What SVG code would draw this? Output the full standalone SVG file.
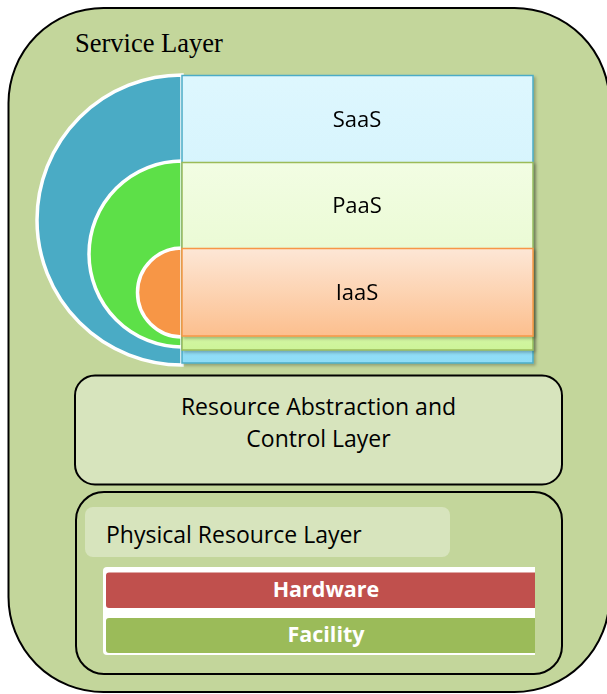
<svg xmlns="http://www.w3.org/2000/svg" width="607" height="694" viewBox="0 0 607 694">
<defs>
<linearGradient id="gSaaS" x1="0" y1="0" x2="0" y2="1">
<stop offset="0" stop-color="#def7fe"/><stop offset="0.75" stop-color="#cdf1fc"/><stop offset="0.8" stop-color="#9be3f9"/><stop offset="1" stop-color="#8edcf6"/>
</linearGradient>
<linearGradient id="gPaaS" x1="0" y1="0" x2="0" y2="1">
<stop offset="0" stop-color="#f2fde3"/><stop offset="0.9" stop-color="#e4f8c8"/><stop offset="0.92" stop-color="#d3f6a4"/><stop offset="1" stop-color="#cdf498"/>
</linearGradient>
<linearGradient id="gIaaS" x1="0" y1="0" x2="0" y2="1">
<stop offset="0" stop-color="#fde7d6"/><stop offset="1" stop-color="#fcbf8e"/>
</linearGradient>
<filter id="sh" x="-5%" y="-5%" width="115%" height="120%">
<feDropShadow dx="2" dy="2" stdDeviation="1.5" flood-color="#000" flood-opacity="0.25"/>
</filter>
<clipPath id="barclip"><rect x="0" y="0" width="535" height="694"/></clipPath>
</defs>
<style>
.cal{font-family:"Open Sans","Noto Sans","Liberation Sans",sans-serif;fill:#000}
.lbl{font-size:22px;text-anchor:middle}
.big{font-size:23px;text-anchor:middle}
.bold{font-weight:bold;fill:#fff;text-anchor:middle;font-size:21.5px}
.disc{stroke:#fff;stroke-width:3.5}
</style>
<g id="service-layer">
<rect x="8.5" y="8" width="601" height="684" rx="95" ry="95" fill="#c3d69b" stroke="#000" stroke-width="2"/>
<text x="75" y="51.5" font-family="Liberation Serif,Times New Roman,serif" font-size="26.5" fill="#000">Service Layer</text>
</g>
<g id="discs">
<path class="disc" d="M182 75 A145 145 0 0 0 182 365 Z" fill="#4aabc5"/>
<path class="disc" d="M182 161 A93 93 0 0 0 182 347 Z" fill="#5de048"/>
<path class="disc" d="M182 248 A44.5 44.5 0 0 0 182 337 Z" fill="#f79646"/>
</g>
<g id="saas" filter="url(#sh)">
<rect x="182" y="75.5" width="351" height="287.5" fill="url(#gSaaS)" stroke="#4bacc6" stroke-width="1.5"/>
<text class="cal lbl" x="357" y="127">SaaS</text>
</g>
<g id="paas" filter="url(#sh)">
<rect x="182" y="162.5" width="351" height="187.5" fill="url(#gPaaS)" stroke="#9bbb59" stroke-width="1.5"/>
<text class="cal lbl" x="357" y="213">PaaS</text>
</g>
<g id="iaas" filter="url(#sh)">
<rect x="182" y="248.5" width="351" height="87.5" fill="url(#gIaaS)" stroke="#f79646" stroke-width="1.5"/>
<text class="cal lbl" x="357" y="300">IaaS</text>
</g>
<g id="resource-abstraction">
<rect x="75" y="375.5" width="487" height="109" rx="20" ry="20" fill="#d7e4bd" stroke="#000" stroke-width="2"/>
<text class="cal big" x="318.5" y="415">Resource Abstraction and</text>
<text class="cal big" x="318.5" y="447">Control Layer</text>
</g>
<g id="physical-resource">
<rect x="76" y="492" width="486" height="182" rx="28" ry="28" fill="#c3d69b" stroke="#000" stroke-width="2"/>
<rect x="85" y="507" width="365" height="50" rx="8" ry="8" fill="#d7e4bd"/>
<text class="cal" x="106" y="543" font-size="23">Physical Resource Layer</text>
</g>
<g id="hardware" clip-path="url(#barclip)">
<rect x="103" y="567" width="450" height="88" rx="4" ry="4" fill="#fff"/>
<rect x="106" y="572.5" width="450" height="35.5" rx="3" ry="3" fill="#c0504d"/>
<text class="cal bold" x="326" y="597">Hardware</text>
</g>
<g id="facility" clip-path="url(#barclip)">
<rect x="106" y="618" width="450" height="35" rx="3" ry="3" fill="#9bbb59"/>
<text class="cal bold" x="326" y="642">Facility</text>
</g>
<g id="connectors"/>
</svg>
